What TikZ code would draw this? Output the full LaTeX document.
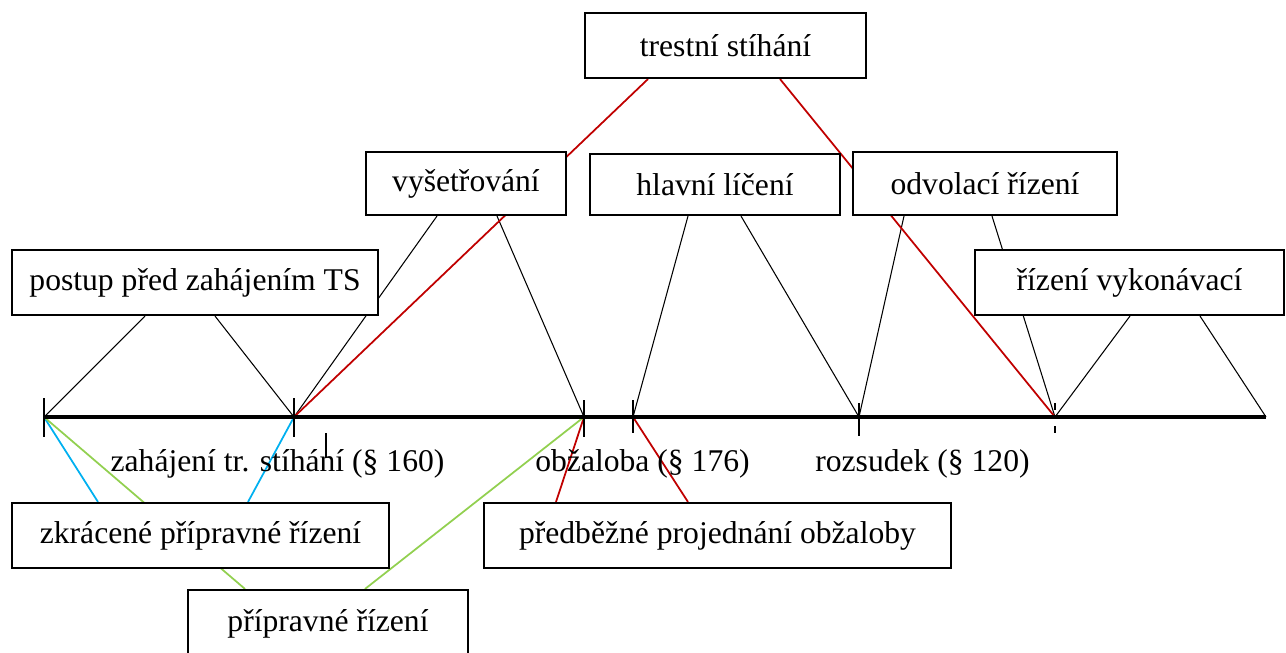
\documentclass[tikz,border=0pt]{standalone}
\usepackage{fontspec}
\setmainfont{Liberation Serif}
\usetikzlibrary{calc}
\pgfdeclarelayer{bg}
\pgfsetlayers{bg,main}
\definecolor{lred}{RGB}{192,0,0}
\definecolor{lblue}{RGB}{0,176,240}
\definecolor{lgreen}{RGB}{146,208,80}
\tikzstyle{bx}=[shape=rectangle,draw,fill=white,line width=1.2pt,inner sep=0pt,minimum height=1.3cm]
\tikzstyle{ln}=[line width=0.6pt]
\tikzstyle{rd}=[line width=1pt,lred]
\tikzstyle{bl}=[line width=1pt,lblue]
\tikzstyle{gr}=[line width=1pt,lgreen]
\tikzstyle{tk}=[line width=0.9pt]
\tikzstyle{axis}=[line width=2.6pt]

\begin{document}
\begin{tikzpicture}[x=0.02cm,y=-0.02cm,font=\fontsize{18pt}{21pt}\selectfont]
        \useasboundingbox (0,0) rectangle (1286,653);
        % boxes
        \node[bx, minimum width=5.62cm] (trest) at (725.5,45.5) {trestní stíhání};
        \node[bx, minimum width=4.0cm, minimum height=1.26cm] (vyset) at (466,183.5) {vyšetřování};
        \node[bx, minimum width=5.0cm, minimum height=1.22cm] (hlavni) at (715,184.5) {hlavní líčení};
        \node[bx, minimum width=5.28cm, minimum height=1.26cm] (odvol) at (985,183.5) {odvolací řízení};
        \node[bx, minimum width=7.32cm] (postup) at (195,282.5) {postup před zahájením TS};
        \node[bx, minimum width=6.18cm] (rizvyk) at (1129.5,282.5) {řízení vykonávací};
        \node[bx, minimum width=7.54cm] (zkrac) at (200.5,535.5) {zkrácené přípravné řízení};
        \node[bx, minimum width=9.34cm] (predb) at (717.5,535.5) {předběžné projednání obžaloby};
        \node[bx, minimum width=5.6cm, minimum height=1.36cm] (prip) at (328,624) {přípravné řízení};

        % time axis
        \coordinate (t0) at (44,417);
        \coordinate (t1) at (294,417);
        \coordinate (t2) at (584,417);
        \coordinate (t3) at (633,417);
        \coordinate (t4) at (859,417);
        \coordinate (t5) at (1055,417);
        \coordinate (tend) at (1266,417);
        \draw[axis] (t0) -- (tend);
        \draw[tk] ($(t0)+(0,-19)$) -- ($(t0)+(0,20)$);
        \draw[tk] ($(t1)+(0,-19)$) -- ($(t1)+(0,20)$);
        \draw[tk] ($(t1)+(32,16)$) -- ($(t1)+(32,41)$);
        \draw[tk] ($(t2)+(0,-17)$) -- ($(t2)+(0,20)$);
        \draw[tk] ($(t3)+(0,-17)$) -- ($(t3)+(0,16)$);
        \draw[tk] ($(t4)+(0,-14)$) -- ($(t4)+(0,19)$);
        \draw[tk] ($(t5)+(0,-14)$) -- ($(t5)+(0,-7)$);
        \draw[tk] ($(t5)+(0,9)$) -- ($(t5)+(0,16)$);

        \node[anchor=base] (lzah) at (277.5,471) {zahájení tr. stíhání (§ 160)};
        \node[anchor=base] (lobz) at (642.5,471) {obžaloba (§ 176)};
        \node[anchor=base] (lroz) at (922.5,471) {rozsudek (§ 120)};

        % connectors
        \begin{pgfonlayer}{bg}
        \draw[ln] ($(postup.south)+(-50,0)$) -- (t0);
        \draw[ln] ($(postup.south)+(20,0)$) -- (t1);
        \draw[ln] ($(vyset.south)+(-29,0)$) -- (t1);
        \draw[ln] ($(vyset.south)+(31,0)$) -- (t2);
        \draw[ln] ($(hlavni.south)+(-27,0)$) -- (t3);
        \draw[ln] ($(hlavni.south)+(26,0)$) -- (t4);
        \draw[ln] ($(odvol.south)+(-81,0)$) -- (t4);
        \draw[ln] ($(odvol.south)+(7,0)$) -- (t5);
        \draw[ln] ($(rizvyk.south)+(0.5,0)$) -- (t5);
        \draw[ln] ($(rizvyk.south)+(70.5,0)$) -- (tend);

        \draw[rd] ($(trest.south)+(-77.5,0)$) -- (t1);
        \draw[rd] ($(trest.south)+(54.5,0)$) -- (t5);
        \draw[rd] (t2) -- ($(predb.north)+(-161.5,0)$);
        \draw[rd] (t3) -- ($(predb.north)+(-29.5,0)$);

        \draw[bl] (t0) -- ($(zkrac.north)+(-102.5,0)$);
        \draw[bl] (t1) -- ($(zkrac.north)+(47.5,0)$);

        \draw[gr] (t0) -- ($(prip.north)+(-83,0)$);
        \draw[gr] (t2) -- ($(prip.north)+(37,0)$);
        \end{pgfonlayer}
    \end{tikzpicture}
\end{document}
